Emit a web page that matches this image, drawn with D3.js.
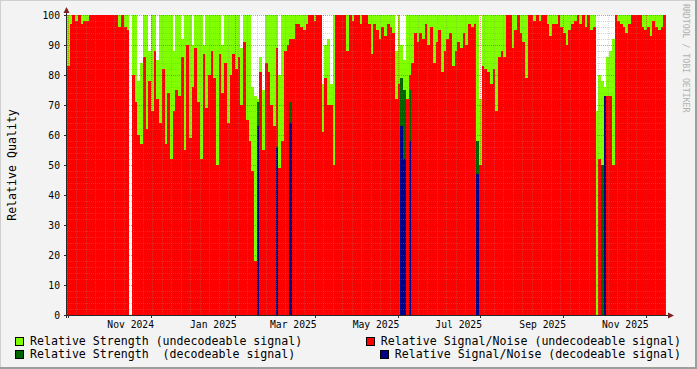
<!DOCTYPE html>
<html>
<head>
<meta charset="utf-8">
<script src="https://cdn.jsdelivr.net/npm/d3@7"></script>
<style>
  body { margin: 0; background: #f3f3f3; }
  svg { display: block; font-family: "DejaVu Sans Mono", monospace; }
</style>
</head>
<body>
<svg width="697" height="369"></svg>
<script>
// two-day buckets starting 2024-09-30
const bucketStart = "2024-09-30";
const bucketDays = 2;
const rangeEnd = "2025-12-16";

// Relative Strength (undecodeable signal), one value per bucket
const strengthUndec = [
  100,100,100,100,100,100,100,100,100,100,
  100,100,100,100,100,100,100,100,100,100,
  100,100,100,null,100,100,78,84,100,100,
  88,100,100,85,100,100,100,100,100,88,
  100,100,92,100,100,100,90,100,100,100,
  90,100,100,100,100,100,100,90,100,100,
  100,100,100,100,89,100,100,100,76,73,
  72,86,75,100,100,100,100,100,80,100,
  100,100,100,100,100,100,100,100,100,100,
  100,100,100,100,77,90,92,77,100,100,
  100,100,100,100,100,100,100,100,100,100,
  100,100,100,100,100,100,100,100,100,100,
  100,88,100,90,85,100,100,100,100,100,
  100,100,100,100,100,100,100,100,100,100,
  100,100,100,100,100,100,100,100,100,100,
  100,100,72,100,100,100,100,100,100,100,
  100,100,100,100,100,100,100,100,100,100,
  100,100,100,100,100,100,100,100,100,100,
  100,100,100,100,100,100,100,100,100,100,
  100,100,100,100,100,68,80,78,76,86,
  88,92,100,100,100,100,100,100,100,100,
  100,100,100,100,100,100,100,100,100,100,100
];

// Relative Signal/Noise (undecodeable signal), one value per bucket
const snrUndec = [
  83,97,100,98,100,97,98,98,100,100,
  100,100,100,100,100,100,100,100,100,96,
  100,96,95,null,80,71,60,57,86,62,
  78,68,88,72,64,82,57,74,52,68,
  75,73,86,55,90,59,76,89,71,52,
  87,69,80,88,79,50,87,74,84,64,
  80,87,82,86,70,91,65,58,48,18,
  0,81,55,84,81,70,63,89,49,58,
  88,90,92,92,97,97,96,95,97,100,
  100,98,100,100,61,79,70,70,50,100,
  100,100,100,88,100,98,100,100,97,100,
  100,97,87,97,95,92,96,93,97,96,
  94,72,77,67,67,72,80,84,94,91,
  94,92,97,90,96,84,91,95,81,88,
  92,94,83,88,91,89,94,90,97,96,
  97,50,50,83,82,81,77,82,68,86,
  88,86,100,100,89,95,100,94,91,79,
  100,100,98,100,98,100,100,97,93,97,
  97,100,96,94,90,95,97,98,100,97,
  100,96,100,95,96,0,52,50,50,73,
  73,50,100,98,97,96,94,97,100,100,
  100,100,96,95,96,93,98,96,95,96,100
];

// decodeable signal, only a few buckets
const decodeDates = ["2025-02-17", "2025-03-03", "2025-03-13", "2025-06-03", "2025-06-05",
                     "2025-06-09", "2025-07-29", "2025-10-29", "2025-10-31"];
const strengthDec = [71, 0, 71, 79, 75, 75, 58, 50, 0];
const snrDec      = [63, 56, 64, 63, 52, 58, 47, 0, 73];

const labelDates = ["2024-11-16", "2025-01-16", "2025-03-16", "2025-05-16",
                    "2025-07-16", "2025-09-16", "2025-11-16"];
const labelTexts = ["Nov 2024", "Jan 2025", "Mar 2025", "May 2025",
                    "Jul 2025", "Sep 2025", "Nov 2025"];
const yTicks = [0, 10, 20, 30, 40, 50, 60, 70, 80, 90, 100];

const legendItems = [
  {text: "Relative Strength (undecodeable signal)", color: "#7fff00"},
  {text: "Relative Signal/Noise (undecodeable signal)", color: "#ff0000"},
  {text: "Relative Strength  (decodeable signal)", color: "#006400"},
  {text: "Relative Signal/Noise (decodeable signal)", color: "#00008b"}
];

const svg = d3.select("svg");
const W = 697, H = 369;
const plotLeft = 67, plotRight = 666, plotTop = 15, plotBottom = 315;

const parse = d3.utcParse("%Y-%m-%d");
const t0 = parse(bucketStart);

const x = d3.scaleUtc().domain([t0, parse(rangeEnd)]).range([plotLeft, plotRight]);
const y = d3.scaleLinear().domain([0, 100]).range([plotBottom, plotTop]);

// frame
svg.append("rect").attr("width", W).attr("height", H).attr("fill", "#f3f3f3");
svg.append("path").attr("d", `M0,${H} V0 H${W}`).attr("stroke", "#cfcfcf").attr("stroke-width", 2).attr("fill", "none");
svg.append("path").attr("d", `M0,${H - 1} H${W - 1} V0`).attr("stroke", "#9e9e9e").attr("stroke-width", 2).attr("fill", "none");
svg.append("rect").attr("x", plotLeft).attr("y", plotTop)
  .attr("width", plotRight - plotLeft).attr("height", plotBottom - plotTop).attr("fill", "#ffffff");

const buckets = snrUndec.map((v, i) => ({
  t: d3.utcDay.offset(t0, i * bucketDays),
  s: strengthUndec[i],
  r: v
}));

function bars(g, data, key, color, days) {
  g.selectAll(null)
    .data(data.filter(d => d[key] != null && d[key] > 0))
    .join("rect")
      .attr("x", d => Math.round(x(d.t)))
      .attr("width", d => Math.round(x(d3.utcDay.offset(d.t, days))) - Math.round(x(d.t)))
      .attr("y", d => Math.round(y(d[key])))
      .attr("height", d => plotBottom - Math.round(y(d[key])))
      .attr("fill", color);
}

const plot = svg.append("g").attr("shape-rendering", "crispEdges");
bars(plot.append("g"), buckets, "s", "#7fff00", bucketDays);
bars(plot.append("g"), buckets, "r", "#ff0000", bucketDays);

const dec = decodeDates.map((d, i) => ({t: parse(d), s: strengthDec[i], r: snrDec[i]}));
bars(plot.append("g"), dec, "s", "#006400", bucketDays);
bars(plot.append("g"), dec, "r", "#00008b", bucketDays);

// grid on top, rrdtool style dotted
const grid = svg.append("g").attr("shape-rendering", "crispEdges").attr("stroke-dasharray", "1,1");
const weeks = d3.utcMonday.range(x.domain()[0], x.domain()[1]);
grid.selectAll(null).data(weeks).join("line")
  .attr("x1", d => Math.round(x(d)) + 0.5).attr("x2", d => Math.round(x(d)) + 0.5)
  .attr("y1", plotTop).attr("y2", plotBottom)
  .attr("stroke", "rgba(140,140,140,0.35)");
grid.selectAll(null).data(d3.range(0, 101, 2).filter(v => v % 10)).join("line")
  .attr("x1", plotLeft).attr("x2", plotRight)
  .attr("y1", d => Math.round(y(d)) + 0.5).attr("y2", d => Math.round(y(d)) + 0.5)
  .attr("stroke", "rgba(140,140,140,0.35)");

const majors = d3.utcMonth.range(x.domain()[0], x.domain()[1]).filter(d => d.getUTCMonth() % 2 === 1);
grid.selectAll(null).data(majors).join("line")
  .attr("x1", d => Math.round(x(d)) + 0.5).attr("x2", d => Math.round(x(d)) + 0.5)
  .attr("y1", plotTop).attr("y2", plotBottom)
  .attr("stroke", "rgba(233,0,0,0.45)");
grid.selectAll(null).data(yTicks.filter(v => v > 0)).join("line")
  .attr("x1", plotLeft).attr("x2", plotRight)
  .attr("y1", d => Math.round(y(d)) + 0.5).attr("y2", d => Math.round(y(d)) + 0.5)
  .attr("stroke", "rgba(233,0,0,0.45)");

// axes
const axis = svg.append("g").attr("shape-rendering", "crispEdges").attr("stroke", "#2a2a2a");
axis.append("line").attr("x1", plotLeft - 0.5).attr("x2", plotLeft - 0.5).attr("y1", plotBottom + 3).attr("y2", 10);
axis.append("line").attr("x1", plotLeft - 3).attr("x2", 670).attr("y1", plotBottom + 0.5).attr("y2", plotBottom + 0.5);
axis.selectAll(null).data(yTicks).join("line")
  .attr("x1", plotLeft - 3).attr("x2", plotLeft)
  .attr("y1", d => Math.round(y(d)) + 0.5).attr("y2", d => Math.round(y(d)) + 0.5);
axis.selectAll(null).data(majors).join("line")
  .attr("x1", d => Math.round(x(d)) + 0.5).attr("x2", d => Math.round(x(d)) + 0.5)
  .attr("y1", plotBottom).attr("y2", plotBottom + 3);

svg.append("path").attr("d", "M63.5,13 L69.5,13 L66.5,7 Z").attr("fill", "#7f1f1f");
svg.append("path").attr("d", `M668,${plotBottom - 2.5} L668,${plotBottom + 3.5} L674,${plotBottom + 0.5} Z`).attr("fill", "#7f1f1f");

// tick labels
svg.append("g").selectAll(null).data(yTicks).join("text")
  .attr("x", 60).attr("y", d => y(d) + 3.5)
  .attr("text-anchor", "end").attr("font-size", "9.7px").attr("fill", "#000")
  .text(d => d);

svg.append("g").selectAll(null).data(labelDates).join("text")
  .attr("x", d => x(parse(d))).attr("y", 328)
  .attr("text-anchor", "middle").attr("font-size", "9.7px").attr("fill", "#000")
  .text((d, i) => labelTexts[i]);

svg.append("text")
  .attr("transform", "translate(16,165) rotate(-90)")
  .attr("text-anchor", "middle").attr("font-size", "11.6px").attr("fill", "#000")
  .text("Relative Quality");

svg.append("text")
  .attr("transform", "translate(683,4) rotate(90)")
  .attr("font-size", "8.2px").attr("fill", "#b0b0b0")
  .text("RRDTOOL / TOBI OETIKER");

// legend: two rows, left item and right-justified item
const legendPos = [
  {sx: 15, tx: 30, anchor: "start", row: 0},
  {sx: 366, tx: 681, anchor: "end", row: 0},
  {sx: 15, tx: 30, anchor: "start", row: 1},
  {sx: 380, tx: 681, anchor: "end", row: 1}
];
const legend = svg.append("g");
legendItems.forEach((item, i) => {
  const p = legendPos[i];
  const ly = 337 + p.row * 13;
  legend.append("rect")
    .attr("x", p.sx + 0.5).attr("y", ly + 0.5).attr("width", 8).attr("height", 8)
    .attr("fill", item.color).attr("stroke", "#000").attr("stroke-width", 1)
    .attr("shape-rendering", "crispEdges");
  legend.append("text")
    .attr("x", p.tx).attr("y", ly + 8)
    .attr("text-anchor", p.anchor).attr("font-size", "11.6px").attr("fill", "#000")
    .style("white-space", "pre")
    .text(item.text);
});
</script>
</body>
</html>
